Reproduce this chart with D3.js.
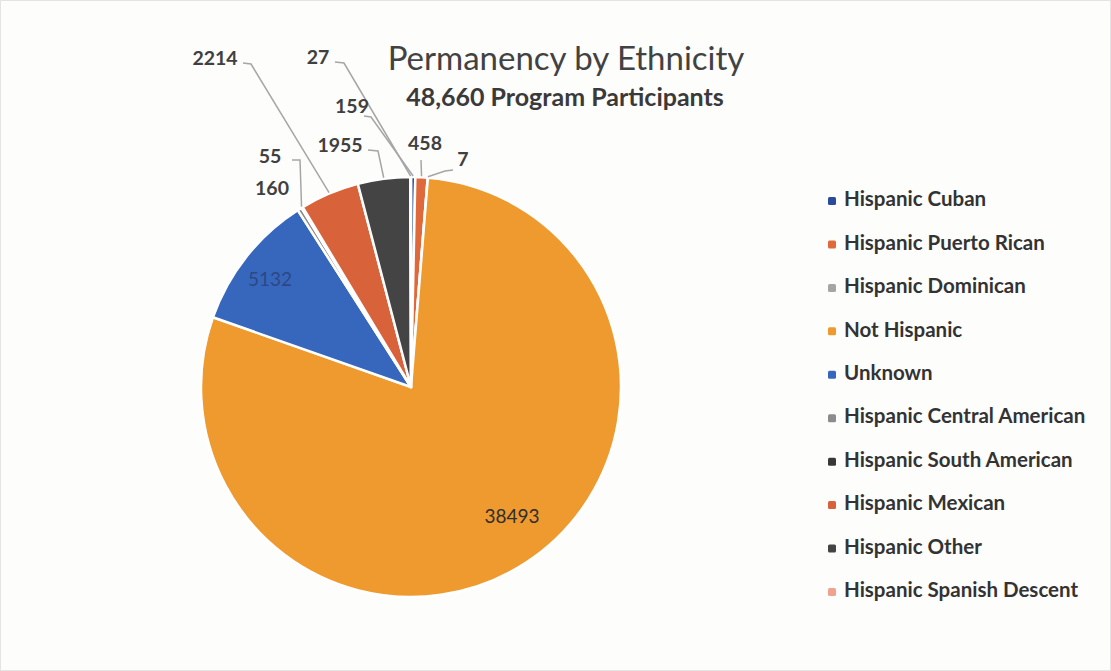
<!DOCTYPE html>
<html>
<head>
<meta charset="utf-8">
<script src="https://cdn.jsdelivr.net/npm/d3@7/dist/d3.min.js"></script>
<style>
  html, body { margin: 0; padding: 0; background: #fdfdfc; }
  svg { display: block; }
</style>
</head>
<body>
<svg id="chart" width="1111" height="671"></svg>
<script>
// ---- data ----
const categories = [
  "Hispanic Cuban", "Hispanic Puerto Rican", "Hispanic Dominican", "Not Hispanic",
  "Unknown", "Hispanic Central American", "Hispanic South American",
  "Hispanic Mexican", "Hispanic Other", "Hispanic Spanish Descent"
];
const values = [159, 458, 7, 38493, 5132, 160, 55, 2214, 1955, 27];
const colors = ["#2a4a9c", "#e0693c", "#a5a5a5", "#ee9a2e", "#3767bd",
                "#8c8c8c", "#383838", "#d8633b", "#444444", "#f0a28f"];
const titleText = "Permanency by Ethnicity";
const subtitleText = "48,660 Program Participants";

// ---- layout (positions of outside labels and their leader elbows) ----
const outsideLabels = {
  "Hispanic Cuban":            { x: 352, y: 108, elbow: [[364,116],[371,117]] },
  "Hispanic Puerto Rican":     { x: 425, y: 145, elbow: [[421,160]] },
  "Hispanic Dominican":        { x: 463, y: 161, elbow: [[453,170],[445,171]] },
  "Hispanic Central American": { x: 272, y: 190, elbow: null },
  "Hispanic South American":   { x: 270, y: 158, elbow: [[292,160],[300,160]] },
  "Hispanic Mexican":          { x: 215, y: 60,  elbow: [[243,63],[251,64]] },
  "Hispanic Other":            { x: 340, y: 147, elbow: [[368,150],[378,151]] },
  "Hispanic Spanish Descent":  { x: 318, y: 59,  elbow: [[335,62],[344,63]] }
};
const insideLabels = {
  "Not Hispanic": { x: 512, y: 518, color: "#2e2e2e" },
  "Unknown":      { x: 270, y: 281, color: "#2c4784" }
};

const W = 1111, H = 671;
const cx = 411, cy = 387, R = 210;
const FONT = "Lato, 'Open Sans', sans-serif";

const svg = d3.select("#chart");
svg.append("rect").attr("x", 0.5).attr("y", 0.5).attr("width", W - 1).attr("height", H - 1)
  .attr("fill", "#fdfdfc").attr("stroke", "#e4e4e4");

const data = categories.map((c, i) => ({ name: c, value: values[i], color: colors[i] }));
const pie = d3.pie().value(d => d.value).sort(null);
const arcs = pie(data);
const arc = d3.arc().innerRadius(0).outerRadius(R);

const g = svg.append("g").attr("transform", `translate(${cx},${cy})`);
g.selectAll("path.slice").data(arcs).join("path")
  .attr("class", "slice")
  .attr("d", arc)
  .attr("fill", d => d.data.color)
  .attr("stroke", "#ffffff")
  .attr("stroke-width", 2.5)
  .attr("stroke-linejoin", "round");

// leader lines
const leaderG = svg.append("g");
arcs.forEach(a => {
  const L = outsideLabels[a.data.name];
  if (!L || !L.elbow) return;
  const mid = (a.startAngle + a.endAngle) / 2;
  const end = [cx + (R + 1) * Math.sin(mid), cy - (R + 1) * Math.cos(mid)];
  const pts = L.elbow.concat([end]);
  leaderG.append("path")
    .attr("d", d3.line()(pts))
    .attr("fill", "none")
    .attr("stroke", "#a6a6a6")
    .attr("stroke-width", 1.5);
});

// outside labels
arcs.forEach(a => {
  const L = outsideLabels[a.data.name];
  if (!L) return;
  svg.append("text")
    .attr("x", L.x).attr("y", L.y)
    .attr("text-anchor", "middle")
    .attr("dominant-baseline", "middle")
    .attr("font-family", FONT)
    .attr("font-weight", 700)
    .attr("font-size", 19.5)
    .attr("fill", "#404040")
    .text(a.data.value);
});
// inside labels
arcs.forEach(a => {
  const L = insideLabels[a.data.name];
  if (!L) return;
  svg.append("text")
    .attr("x", L.x).attr("y", L.y)
    .attr("text-anchor", "middle")
    .attr("dominant-baseline", "middle")
    .attr("font-family", FONT)
    .attr("font-weight", 400)
    .attr("font-size", 19)
    .attr("fill", L.color)
    .text(a.data.value);
});

// title
svg.append("text")
  .attr("x", 566).attr("y", 62)
  .attr("text-anchor", "middle").attr("dominant-baseline", "middle")
  .attr("font-family", FONT).attr("font-size", 33).attr("font-weight", 400)
  .attr("fill", "#424242")
  .text(titleText);
svg.append("text")
  .attr("x", 565).attr("y", 100)
  .attr("text-anchor", "middle").attr("dominant-baseline", "middle")
  .attr("font-family", FONT).attr("font-size", 25).attr("font-weight", 700)
  .attr("fill", "#3a3a3a")
  .text(subtitleText);

// legend
const legendY = d3.scalePoint().domain(categories).range([201, 592]);
const lg = svg.append("g");
const items = lg.selectAll("g").data(data).join("g")
  .attr("transform", d => `translate(832,${legendY(d.name)})`);
items.append("rect")
  .attr("x", -4).attr("y", -4).attr("width", 8).attr("height", 8)
  .attr("rx", 1.5)
  .attr("fill", d => d.color);
items.append("text")
  .attr("x", 12).attr("y", 0)
  .attr("dominant-baseline", "middle")
  .attr("font-family", FONT).attr("font-size", 20.5).attr("font-weight", 700)
  .attr("fill", "#333333")
  .text(d => d.name);
</script>
</body>
</html>
